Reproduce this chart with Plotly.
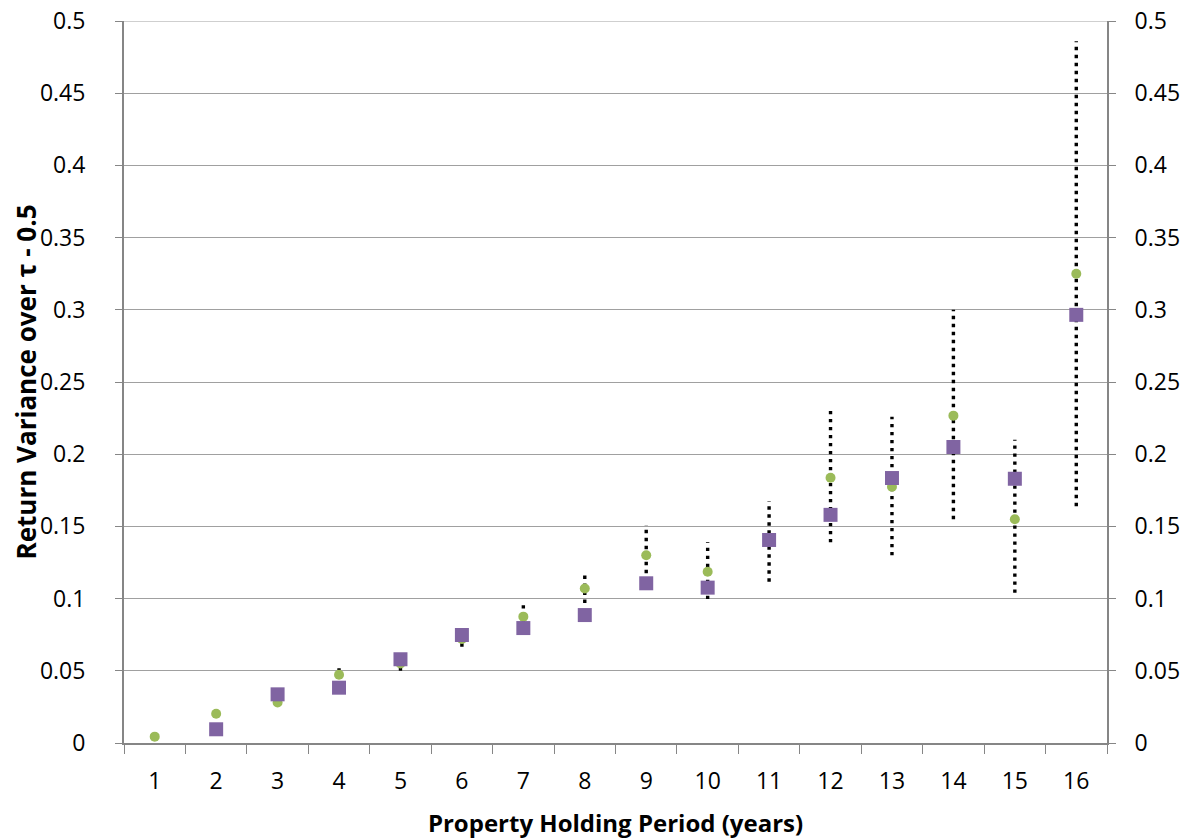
import plotly.graph_objects as go

# ---- data ----
periods = [str(i) for i in range(1, 17)]
green_vals = [0.0044, 0.0203, 0.028, 0.0473, 0.055, 0.072, 0.0875, 0.107, 0.130, 0.1186,
              0.141, 0.1837, 0.1775, 0.2267, 0.155, 0.325]
purple_vals = [None, 0.0095, 0.0337, 0.0383, 0.058, 0.0748, 0.0796, 0.0886, 0.1106, 0.1076,
               0.1406, 0.158, 0.1835, 0.205, 0.183, 0.2965]
range_low = [None, None, None, 0.045, 0.050, 0.0667, 0.082, 0.097, 0.112, 0.0997,
             0.1117, 0.139, 0.130, 0.155, 0.104, 0.164]
range_high = [None, None, None, 0.0517, 0.060, 0.077, 0.0963, 0.119, 0.151, 0.139,
              0.1675, 0.230, 0.226, 0.300, 0.210, 0.486]
y_tick_vals = [0, 0.05, 0.1, 0.15, 0.2, 0.25, 0.3, 0.35, 0.4, 0.45, 0.5]
y_tick_text = ["0", "0.05", "0.1", "0.15", "0.2", "0.25", "0.3", "0.35", "0.4", "0.45", "0.5"]

GREEN = "#9BBB59"
PURPLE = "#8064A2"
AXIS_GRAY = "#868686"
GRID_GRAY = "#A0A0A0"
FONT = "Open Sans"

# build vertical dotted range segments from the low/high arrays
seg_x, seg_y = [], []
for p, lo, hi in zip(periods, range_low, range_high):
    if lo is None or hi is None:
        continue
    seg_x += [p, p, None]
    seg_y += [lo, hi, None]

fig = go.Figure()
fig.add_trace(go.Scatter(
    x=seg_x, y=seg_y, mode="lines", yaxis="y",
    line=dict(color="black", width=3.4, dash="3.4px,4.6px"),
    hoverinfo="skip", showlegend=False, connectgaps=False))
fig.add_trace(go.Scatter(
    x=periods, y=green_vals, mode="markers", yaxis="y2",
    marker=dict(symbol="circle", size=10, color=GREEN), showlegend=False))
fig.add_trace(go.Scatter(
    x=periods, y=purple_vals, mode="markers", yaxis="y2",
    marker=dict(symbol="square", size=14, color=PURPLE), showlegend=False))

# top gridline at the upper end of the value axis (plotly drops grid lines on range ends)
fig.add_shape(type="line", xref="paper", x0=0, x1=1, yref="y",
              y0=y_tick_vals[-1], y1=y_tick_vals[-1],
              line=dict(color=GRID_GRAY, width=1), layer="below")

tickfont = dict(family=FONT, size=23, color="black")
fig.update_layout(
    width=1187, height=832,
    margin=dict(l=116, r=88, t=13, b=97),
    paper_bgcolor="white", plot_bgcolor="white",
    showlegend=False,
    xaxis=dict(
        type="category", categoryorder="array", categoryarray=periods,
        range=[-0.5, 15.5], automargin=False,
        showline=True, linecolor=AXIS_GRAY, linewidth=2,
        showgrid=False, zeroline=False,
        ticks="outside", tickson="boundaries", ticklen=9, tickcolor=AXIS_GRAY, tickwidth=1,
        tickfont=tickfont, ticklabelstandoff=16,
        title=dict(text="<b>Property Holding Period (years)</b>",
                   font=dict(family=FONT, size=24, color="black"), standoff=21),
    ),
    yaxis=dict(
        range=[0, 0.5], tickvals=y_tick_vals, ticktext=y_tick_text, automargin=False,
        showline=True, linecolor=AXIS_GRAY, linewidth=2,
        showgrid=True, gridcolor=GRID_GRAY, gridwidth=1, zeroline=False,
        ticks="outside", ticklen=7, tickcolor=AXIS_GRAY, tickwidth=1,
        tickfont=tickfont, ticklabelstandoff=25, ticklabeloverflow="allow",
        title=dict(text="<b>Return Variance over τ - 0.5</b>",
                   font=dict(family=FONT, size=26, color="black"), standoff=11),
    ),
    yaxis2=dict(
        range=[0, 0.5], tickvals=y_tick_vals, ticktext=y_tick_text,
        overlaying="y", side="right", automargin=False,
        showline=True, linecolor=AXIS_GRAY, linewidth=2,
        showgrid=False, zeroline=False,
        ticks="outside", ticklen=7, tickcolor=AXIS_GRAY, tickwidth=1,
        tickfont=tickfont, ticklabelstandoff=14, ticklabeloverflow="allow",
    ),
)

fig.write_html("out.html")
